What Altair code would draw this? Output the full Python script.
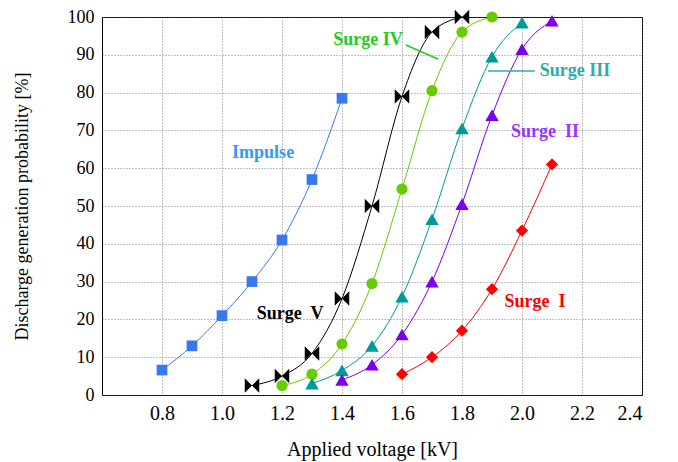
import altair as alt
import pandas as pd

series_names = ["Impulse", "Surge V", "Surge IV", "Surge III", "Surge II", "Surge I"]

impulse_x = [0.8, 0.9, 1.0, 1.1, 1.2, 1.3, 1.4]
impulse_y = [6.6, 13, 21, 30, 41, 57, 78.5]

surge5_x = [1.1, 1.2, 1.3, 1.4, 1.5, 1.6, 1.7, 1.8]
surge5_y = [2.5, 5, 11, 25.5, 50, 79, 96, 100]

surge4_x = [1.2, 1.3, 1.4, 1.5, 1.6, 1.7, 1.8, 1.9]
surge4_y = [2.5, 5.5, 13.5, 29.5, 54.5, 80.5, 96, 100]

surge3_x = [1.3, 1.4, 1.5, 1.6, 1.7, 1.8, 1.9, 2.0]
surge3_y = [3, 6.5, 13, 26, 46.5, 70.5, 89.5, 98.5]

surge2_x = [1.4, 1.5, 1.6, 1.7, 1.8, 1.9, 2.0, 2.1]
surge2_y = [4, 8, 16, 30, 50.5, 74, 91.5, 99]

surge1_x = [1.6, 1.7, 1.8, 1.9, 2.0, 2.1]
surge1_y = [5.5, 10, 17, 28, 43.5, 61]

line_colors = ["#3a78f0", "#000000", "#66cc00", "#009999", "#7a00f0", "#ff0000"]
label_colors = ["#3399ff", "#000000", "#22cc22", "#33aaaa", "#9933ff", "#ff0000"]
bowtie = "M-1,-1L1,1L1,-1L-1,1Z"
shapes = ["square", bowtie, "circle", "triangle-up", "triangle-up", "diamond"]
marker_sizes = [115, 210, 125, 180, 180, 150]

# annotation labels
label_text = ["Impulse", "Surge\u00a0 V", "Surge IV", "Surge III", "Surge\u00a0 II", "Surge\u00a0 I"]
label_x = [1.137, 1.227, 1.487, 2.177, 2.077, 2.043]
label_y = [64, 21.4, 93.9, 85.7, 69.6, 24.6]

# leader lines
leader_x = [1.613, 1.887]
leader_y = [92.6, 85.7]
leader_x2 = [1.72, 2.043]
leader_y2 = [88.9, 85.7]
leader_color = ["#22cc22", "#33aaaa"]

x_ticks = [0.8, 1.0, 1.2, 1.4, 1.6, 1.8, 2.0, 2.2, 2.4]
y_ticks = [0, 10, 20, 30, 40, 50, 60, 70, 80, 90, 100]

all_x = [impulse_x, surge5_x, surge4_x, surge3_x, surge2_x, surge1_x]
all_y = [impulse_y, surge5_y, surge4_y, surge3_y, surge2_y, surge1_y]

rows = []
for name, xs, ys in zip(series_names, all_x, all_y):
    for xv, yv in zip(xs, ys):
        rows.append({"series": name, "x": xv, "y": yv})
df = pd.DataFrame(rows)

labels = pd.DataFrame({"text": label_text, "x": label_x, "y": label_y, "c": label_colors})
leaders = pd.DataFrame({"x": leader_x, "y": leader_y, "x2": leader_x2, "y2": leader_y2, "c": leader_color})

xscale = alt.Scale(domain=[0.6, 2.4], nice=False, zero=False)
yscale = alt.Scale(domain=[0, 100], nice=False)

xaxis = alt.Axis(values=x_ticks, format=".1f", title="Applied voltage [kV]", labelOverlap=False)
yaxis = alt.Axis(values=y_ticks, title="Discharge generation probability [%]", labelOverlap=False)

X = alt.X("x:Q", scale=xscale, axis=xaxis)
Y = alt.Y("y:Q", scale=yscale, axis=yaxis)

color = alt.Color("series:N", scale=alt.Scale(domain=series_names, range=line_colors), legend=None)

lines = alt.Chart(df).mark_line(strokeWidth=1, interpolate="monotone").encode(
    x=X, y=Y, color=color, detail="series:N",
)

point_layers = []
for name, lc, shp, sz in zip(series_names, line_colors, shapes, marker_sizes):
    point_layers.append(
        alt.Chart(df).transform_filter(alt.datum.series == name)
        .mark_point(filled=True, opacity=1, shape=shp, size=sz, color=lc)
        .encode(x=X, y=Y)
    )

texts = alt.Chart(labels).mark_text(font="Liberation Serif", fontSize=18, fontWeight="bold").encode(
    x=X, y=Y,
    text="text:N",
    color=alt.Color("c:N", scale=None),
)

rules = alt.Chart(leaders).mark_rule(strokeWidth=1.5).encode(
    x=X, y=Y,
    x2="x2:Q",
    y2="y2:Q",
    color=alt.Color("c:N", scale=None),
)

chart = alt.layer(lines, rules, *point_layers, texts).properties(
    width=540, height=378,
    padding={"left": 5, "top": 0, "right": 5, "bottom": 5},
).configure_view(
    stroke="#000000", strokeWidth=1
).configure_axis(
    labelFont="Liberation Serif", titleFont="Liberation Serif",
    titleFontWeight="normal",
    labelColor="#000", titleColor="#000",
    grid=True, gridColor="#666", gridDash=[1, 2], gridWidth=0.8,
    domain=False, ticks=False, labelPadding=8,
).configure_axisX(
    labelFontSize=20, titleFontSize=20, titlePadding=16,
).configure_axisY(
    labelFontSize=18, titleFontSize=18, titlePadding=36,
)

chart.save("out.html", embed_options={"renderer": "svg", "actions": False})
